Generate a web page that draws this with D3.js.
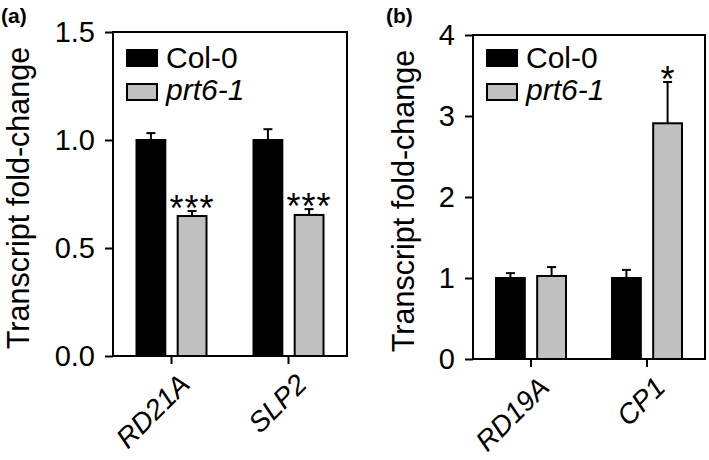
<!DOCTYPE html>
<html><head><meta charset="utf-8">
<script src="https://cdn.jsdelivr.net/npm/d3@7"></script>
<style>body{margin:0;background:#fff}svg{display:block;font-family:Arial,"Liberation Sans",sans-serif}</style>
</head><body><svg id="c" width="709" height="460"></svg>
<script>
const series = ["Col-0", "prt6-1"];
const colors = ["#000000", "#c0c0c0"];
// Panel (a)
const catsA = ["RD21A", "SLP2"];
const colA = [1.0, 1.0];
const colErrA = [0.032, 0.05];
const prtA = [0.648, 0.653];
const prtErrA = [0.023, 0.027];
const sigAPrt = ["***", "***"];
const ticksA = [0.0, 0.5, 1.0, 1.5];
// Panel (b)
const catsB = ["RD19A", "CP1"];
const colB = [1.0, 1.0];
const colErrB = [0.06, 0.10];
const prtB = [1.025, 2.91];
const prtErrB = [0.11, 0.51];
const sigBPrt = ["", "*"];
const ticksB = [0, 1, 2, 3, 4];

const svg = d3.select("#c");
const FS = 29;

function panel(o) {
  const g = svg.append("g");
  const x = d3.scaleBand().domain(o.cats).range([o.x0, o.x1]);
  const sub = d3.scaleBand().domain(series).range([-35, 35]).paddingInner(0.3);
  const y = d3.scaleLinear().domain([0, o.ymax]).range([o.y0, o.y1]);
  const data = [];
  o.cats.forEach((c, i) => {
    data.push({c, s: 0, v: o.col[i], e: o.colErr[i], sig: ""});
    data.push({c, s: 1, v: o.prt[i], e: o.prtErr[i], sig: o.sig[i]});
  });
  const cx = d => x(d.c) + x.bandwidth() / 2 + sub(series[d.s]);
  g.selectAll("rect.bar").data(data).join("rect")
    .attr("x", d => cx(d)).attr("width", sub.bandwidth())
    .attr("y", d => y(d.v)).attr("height", d => y(0) - y(d.v))
    .attr("fill", d => colors[d.s]).attr("stroke", "#000").attr("stroke-width", 2);
  const mid = d => cx(d) + sub.bandwidth() / 2;
  g.selectAll("line.err").data(data).join("line")
    .attr("x1", mid).attr("x2", mid).attr("y1", d => y(d.v)).attr("y2", d => y(d.v + d.e))
    .attr("stroke", "#000").attr("stroke-width", 2);
  g.selectAll("line.cap").data(data).join("line")
    .attr("x1", d => mid(d) - 4.5).attr("x2", d => mid(d) + 4.5)
    .attr("y1", d => y(d.v + d.e)).attr("y2", d => y(d.v + d.e))
    .attr("stroke", "#000").attr("stroke-width", 2);
  g.selectAll("text.sig").data(data.filter(d => d.sig)).join("text")
    .attr("x", mid).attr("y", d => y(d.v + d.e) + 10)
    .attr("text-anchor", "middle").attr("font-size", 36).attr("letter-spacing", d => d.sig.length > 1 ? 1 : 0)
    .text(d => d.sig);
  g.append("rect").attr("x", o.x0).attr("y", o.y1).attr("width", o.x1 - o.x0).attr("height", o.y0 - o.y1)
    .attr("fill", "none").attr("stroke", "#000").attr("stroke-width", 2);
  const ya = g.append("g").attr("transform", `translate(${o.x0},0)`)
    .call(d3.axisLeft(y).tickValues(o.ticks).tickFormat(o.fmt).tickSize(8).tickPadding(10));
  ya.select(".domain").remove();
  ya.selectAll("line").attr("stroke-width", 2);
  ya.selectAll("text").attr("font-size", FS).attr("font-family", "Arial, 'Liberation Sans', sans-serif").attr("fill", "#000");
  const xa = g.append("g").attr("transform", `translate(0,${o.y0})`)
    .call(d3.axisBottom(x).tickSize(8).tickFormat(""));
  xa.select(".domain").remove();
  xa.selectAll("line").attr("stroke-width", 2);
  g.selectAll("text.xl").data(o.cats).join("text")
    .attr("transform", c => `translate(${x(c) + x.bandwidth() / 2 + 20},${o.y0 + 30}) rotate(-45)`)
    .attr("text-anchor", "end").attr("font-size", 28).attr("font-style", "italic").text(c => c);
  g.append("text").attr("transform", `translate(${o.tx},${(o.y0 + o.y1) / 2 + 4}) rotate(-90)`)
    .attr("text-anchor", "middle").attr("font-size", 30.5).text("Transcript fold-change");
  series.forEach((s, i) => {
    g.append("rect").attr("x", o.x0 + 14).attr("y", 50 + i * 34).attr("width", 30).attr("height", 16)
      .attr("fill", colors[i]).attr("stroke", "#000").attr("stroke-width", 2);
    g.append("text").attr("x", o.x0 + 53).attr("y", 68 + i * 32).attr("font-size", 30)
      .attr("font-style", i === 1 ? "italic" : "normal").text(s);
  });
  g.append("text").attr("x", o.lx).attr("y", 23).attr("font-size", 21).attr("font-weight", "bold").text(o.label);
}

panel({cats: catsA, col: colA, colErr: colErrA, prt: prtA, prtErr: prtErrA, sig: sigAPrt,
  ymax: 1.5, ticks: ticksA, fmt: d3.format(".1f"), x0: 113, x1: 347, y0: 356, y1: 32, tx: 29, lx: 1, label: "(a)"});
panel({cats: catsB, col: colB, colErr: colErrB, prt: prtB, prtErr: prtErrB, sig: sigBPrt,
  ymax: 4, ticks: ticksB, fmt: d3.format("d"), x0: 473, x1: 705, y0: 359, y1: 35, tx: 414, lx: 386, label: "(b)"});
</script></body></html>
